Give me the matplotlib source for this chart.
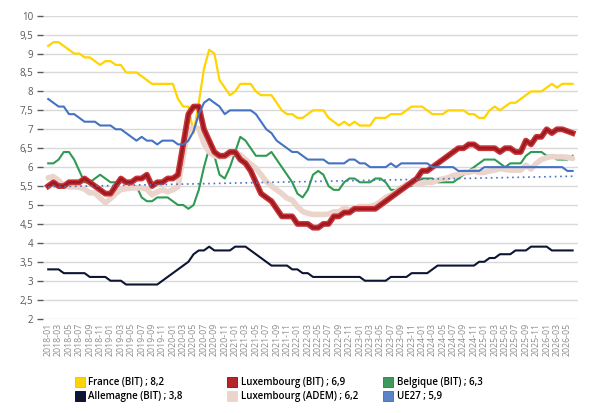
import numpy as np
import matplotlib.pyplot as plt
import matplotlib.patheffects as pe
from matplotlib.lines import Line2D

plt.rcParams['font.family'] = ['Open Sans', 'DejaVu Sans']

# mois 2018-01 .. 2026-06
months = [f'{y}-{m:02d}' for y in range(2018, 2027) for m in range(1, 13)][:102]

france = [9.2, 9.3, 9.3, 9.2, 9.1, 9.0, 9.0, 8.9, 8.9, 8.8,
          8.7, 8.8, 8.8, 8.7, 8.7, 8.5, 8.5, 8.5, 8.4, 8.3,
          8.2, 8.2, 8.2, 8.2, 8.2, 7.8, 7.6, 7.6, 6.9, 7.7,
          8.6, 9.1, 9.0, 8.3, 8.1, 7.9, 8.0, 8.2, 8.2, 8.2,
          8.0, 7.9, 7.9, 7.9, 7.7, 7.5, 7.4, 7.4, 7.3, 7.3,
          7.4, 7.5, 7.5, 7.5, 7.3, 7.2, 7.1, 7.2, 7.1, 7.2,
          7.1, 7.1, 7.1, 7.3, 7.3, 7.3, 7.4, 7.4, 7.4, 7.5,
          7.6, 7.6, 7.6, 7.5, 7.4, 7.4, 7.4, 7.5, 7.5, 7.5,
          7.5, 7.4, 7.4, 7.3, 7.3, 7.5, 7.6, 7.5, 7.6, 7.7,
          7.7, 7.8, 7.9, 8.0, 8.0, 8.0, 8.1, 8.2, 8.1, 8.2,
          8.2, 8.2]

lux_bit = [5.5, 5.6, 5.5, 5.5, 5.6, 5.6, 5.6, 5.7, 5.6, 5.5,
           5.4, 5.3, 5.3, 5.5, 5.7, 5.6, 5.6, 5.7, 5.7, 5.8,
           5.5, 5.6, 5.6, 5.7, 5.7, 5.8, 6.6, 7.4, 7.6, 7.6,
           7.0, 6.7, 6.4, 6.3, 6.3, 6.4, 6.4, 6.2, 6.1, 5.9,
           5.6, 5.3, 5.2, 5.1, 4.9, 4.7, 4.7, 4.7, 4.5, 4.5,
           4.5, 4.4, 4.4, 4.5, 4.5, 4.7, 4.7, 4.8, 4.8, 4.9,
           4.9, 4.9, 4.9, 4.9, 5.0, 5.1, 5.2, 5.3, 5.4, 5.5,
           5.6, 5.7, 5.9, 5.9, 6.0, 6.1, 6.2, 6.3, 6.4, 6.5,
           6.5, 6.6, 6.6, 6.5, 6.5, 6.5, 6.5, 6.4, 6.5, 6.5,
           6.4, 6.4, 6.7, 6.6, 6.8, 6.8, 7.0, 6.9, 7.0, 7.0,
           6.95, 6.9]

belgique = [6.1, 6.1, 6.2, 6.4, 6.4, 6.2, 5.9, 5.6, 5.6, 5.7,
            5.8, 5.7, 5.6, 5.6, 5.6, 5.6, 5.5, 5.5, 5.2, 5.1,
            5.1, 5.2, 5.2, 5.2, 5.1, 5.0, 5.0, 4.9, 5.0, 5.4,
            6.0, 6.5, 6.3, 5.8, 5.7, 6.0, 6.4, 6.8, 6.7, 6.5,
            6.3, 6.3, 6.3, 6.4, 6.2, 6.0, 5.8, 5.6, 5.3, 5.2,
            5.4, 5.8, 5.9, 5.8, 5.5, 5.4, 5.4, 5.6, 5.7, 5.7,
            5.6, 5.6, 5.6, 5.7, 5.7, 5.6, 5.4, 5.4, 5.5, 5.5,
            5.5, 5.6, 5.7, 5.7, 5.7, 5.6, 5.6, 5.6, 5.6, 5.7,
            5.8, 5.9, 6.0, 6.1, 6.2, 6.2, 6.2, 6.1, 6.0, 6.1,
            6.1, 6.1, 6.3, 6.4, 6.4, 6.4, 6.3, 6.3, 6.2, 6.2,
            6.2, 6.3]

allemagne = [3.3, 3.3, 3.3, 3.2, 3.2, 3.2, 3.2, 3.2, 3.1, 3.1,
             3.1, 3.1, 3.0, 3.0, 3.0, 2.9, 2.9, 2.9, 2.9, 2.9,
             2.9, 2.9, 3.0, 3.1, 3.2, 3.3, 3.4, 3.5, 3.7, 3.8,
             3.8, 3.9, 3.8, 3.8, 3.8, 3.8, 3.9, 3.9, 3.9, 3.8,
             3.7, 3.6, 3.5, 3.4, 3.4, 3.4, 3.4, 3.3, 3.3, 3.2,
             3.2, 3.1, 3.1, 3.1, 3.1, 3.1, 3.1, 3.1, 3.1, 3.1,
             3.1, 3.0, 3.0, 3.0, 3.0, 3.0, 3.1, 3.1, 3.1, 3.1,
             3.2, 3.2, 3.2, 3.2, 3.3, 3.4, 3.4, 3.4, 3.4, 3.4,
             3.4, 3.4, 3.4, 3.5, 3.5, 3.6, 3.6, 3.7, 3.7, 3.7,
             3.8, 3.8, 3.8, 3.9, 3.9, 3.9, 3.9, 3.8, 3.8, 3.8,
             3.8, 3.8]

lux_adem = [5.72, 5.75, 5.65, 5.5, 5.48, 5.48, 5.47, 5.42, 5.32, 5.32,
            5.18, 5.06, 5.17, 5.3, 5.41, 5.43, 5.45, 5.45, 5.45, 5.42,
            5.27, 5.35, 5.4, 5.35, 5.4, 5.48, 6.3, 6.97, 7.05, 7.02,
            6.62, 6.4, 6.3, 6.27, 6.28, 6.33, 6.4, 6.32, 6.2, 6.08,
            5.97, 5.8, 5.62, 5.5, 5.4, 5.3, 5.18, 5.13, 4.96, 4.83,
            4.78, 4.75, 4.75, 4.75, 4.76, 4.82, 4.82, 4.92, 4.87, 4.91,
            4.96, 4.96, 4.96, 5.0, 5.09, 5.2, 5.26, 5.35, 5.44, 5.55,
            5.57, 5.57, 5.57, 5.6, 5.6, 5.66, 5.69, 5.72, 5.78, 5.8,
            5.86, 5.86, 5.9, 5.86, 5.86, 5.9, 5.92, 5.96, 5.94, 5.92,
            5.92, 5.92, 6.05, 5.95, 6.1, 6.2, 6.25, 6.28, 6.27, 6.27,
            6.26, 6.23]

ue27 = [7.8, 7.7, 7.6, 7.6, 7.4, 7.4, 7.3, 7.2, 7.2, 7.2,
        7.1, 7.1, 7.1, 7.0, 7.0, 6.9, 6.8, 6.7, 6.8, 6.7,
        6.7, 6.6, 6.7, 6.7, 6.7, 6.6, 6.6, 6.7, 6.95, 7.4,
        7.7, 7.8, 7.7, 7.6, 7.4, 7.5, 7.5, 7.5, 7.5, 7.5,
        7.4, 7.2, 7.0, 6.9, 6.7, 6.6, 6.5, 6.4, 6.4, 6.3,
        6.2, 6.2, 6.2, 6.2, 6.1, 6.1, 6.1, 6.1, 6.2, 6.2,
        6.1, 6.1, 6.0, 6.0, 6.0, 6.0, 6.1, 6.0, 6.1, 6.1,
        6.1, 6.1, 6.1, 6.1, 6.0, 6.0, 6.0, 6.0, 6.0, 5.9,
        5.9, 5.9, 5.9, 5.9, 6.0, 6.0, 6.0, 6.0, 6.0, 6.0,
        6.0, 6.0, 6.0, 6.0, 6.0, 6.0, 6.0, 6.0, 6.0, 6.0,
        5.9, 5.9]

# courbe de tendance (pointillés) : début et fin
trend = [5.48, 5.76]

c_fr = '#FFD400'
c_lux = '#9E1A1E'
c_lux_edge = '#C8343A'
c_be = '#2F9A52'
c_de = '#0D1533'
c_adem = '#EAD4CB'
c_ue = '#4472C4'

x = np.arange(len(months))

fig = plt.figure(figsize=(6, 4.13), dpi=100)
ax = fig.add_axes([0.0717, 0.2286, 0.8913, 0.7334])

ax.plot(x, belgique, color=c_be, lw=1.5, zorder=3)
ax.plot(x, allemagne, color=c_de, lw=1.5, zorder=3)
ax.plot(x, france, color=c_fr, lw=1.6, zorder=3)
ax.plot(x, lux_adem, color=c_adem, lw=4.0, zorder=4, solid_capstyle='round')
ax.plot(x, lux_bit, color=c_lux, lw=2.0, zorder=5,
        path_effects=[pe.Stroke(linewidth=4.2, foreground=c_lux_edge), pe.Normal()])
ax.plot(x, ue27, color=c_ue, lw=1.5, zorder=6)
ax.plot([x[0], x[-1]], trend, color=c_ue, lw=1.2, ls=(0, (1, 2.2)), zorder=7)

ax.set_xlim(-1, 102)
ax.set_ylim(2, 10)
yt = np.arange(2, 10.01, 0.5)
ax.set_yticks(yt)
ax.set_yticklabels([f'{v:g}'.replace('.', ',') for v in yt], fontsize=7, color='#595959')
ax.set_xticks(x[::2])
ax.set_xticklabels(months[::2], rotation=90, fontsize=6.3, color='#8c8c8c')
ax.tick_params(axis='y', length=4, width=1, color='#595959', pad=3)
ax.tick_params(axis='x', length=0, pad=3)
ax.grid(axis='y', color='#D9D9D9', lw=1)
ax.set_axisbelow(True)
for s in ax.spines.values():
    s.set_visible(False)

def handle(col, edge):
    return Line2D([], [], ls='none', marker='s', markersize=6.5,
                  markerfacecolor=col, markeredgecolor=edge, markeredgewidth=0.6)

cols = [
    ([handle(c_fr, '#E6BE00'), handle(c_de, '#000000')],
     ['France (BIT) ; 8,2', 'Allemagne (BIT) ; 3,8'], 0.118),
    ([handle('#B5252B', '#7A0F12'), handle(c_adem, c_adem)],
     ['Luxembourg (BIT) ; 6,9', 'Luxembourg (ADEM) ; 6,2'], 0.372),
    ([handle('#3E9A5C', '#2A7A44'), handle('#5B84C8', '#3F68B0')],
     ['Belgique (BIT) ; 6,3', 'UE27 ; 5,9'], 0.632),
]
for h, l, xpos in cols:
    fig.legend(h, l, loc='upper left', bbox_to_anchor=(xpos, 0.099),
               frameon=False, handlelength=0.8, handletextpad=0.5,
               labelspacing=0.35, borderpad=0,
               prop={'size': 7, 'weight': 'semibold'})

fig.savefig('out.png', dpi=100)
